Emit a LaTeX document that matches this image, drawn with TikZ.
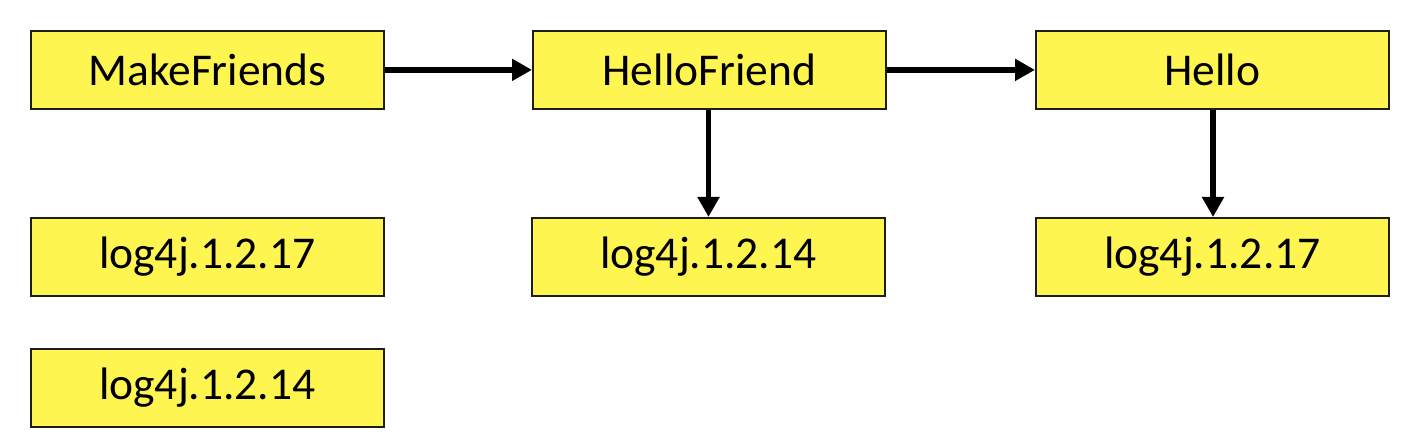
\documentclass[tikz,border=0pt]{standalone}
\usepackage{fontspec}
\setmainfont{Carlito}
\usetikzlibrary{arrows.meta}
\definecolor{boxfill}{RGB}{255,245,80}
\definecolor{boxline}{RGB}{30,30,20}
\tikzset{
  box/.style={draw=boxline, line width=1.8pt, fill=boxfill, minimum width=353pt, minimum height=78pt, inner sep=0pt, font=\fontsize{45.5}{54}\selectfont, anchor=north west},
  conn/.style={line width=5.5pt, -{Triangle[length=20pt,width=21pt]}, shorten >=0pt}
}
\begin{document}
\begin{tikzpicture}[x=1pt,y=-1pt]
\useasboundingbox (0,0) rectangle (1420,446);
\node[box] (mf) at (30,30) {MakeFriends};
\node[box] (hf) at (532,30) {HelloFriend};
\node[box] (h) at (1035,30) {Hello};
\node[box] (a17) at (30,217) {log4j.1.2.17};
\node[box] (b14) at (531,217) {log4j.1.2.14};
\node[box] (c17) at (1035,217) {log4j.1.2.17};
\node[box] (a14) at (30,348) {log4j.1.2.14};
\draw[conn] (mf.east) -- (hf.west);
\draw[conn] (hf.east) -- (h.west);
\draw[conn] (hf.south -| 708.5,0) -- (b14.north -| 708.5,0);
\draw[conn] (h.south -| 1213,0) -- (c17.north -| 1213,0);
\end{tikzpicture}
\end{document}
